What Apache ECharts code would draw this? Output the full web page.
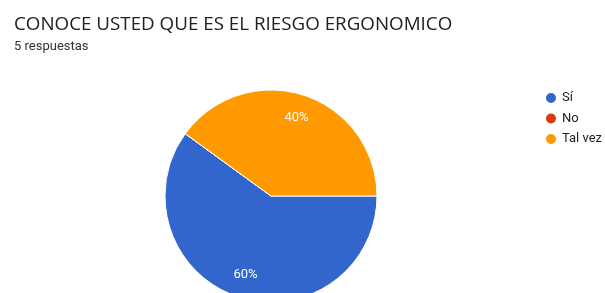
<!DOCTYPE html>
<html>
<head>
<meta charset="utf-8">
<script src="https://cdn.jsdelivr.net/npm/echarts@6/dist/echarts.min.js"></script>
<style>
  html, body { margin: 0; padding: 0; background: #fff; }
  #chart { width: 605px; height: 293px; }
</style>
</head>
<body>
<div id="chart"></div>
<script>
// datos de la encuesta
const categories = ['Sí', 'No', 'Tal vez']
const values = [3, 0, 2]
const colors = ['#3366cc', '#dc3912', '#ff9900']

const chart = echarts.init(document.getElementById('chart'))

const pieData = categories.map((name, i) => ({
  name,
  value: values[i],
  itemStyle: { color: colors[i] }
}))

const options = {
  animation: false,
  title: {
    text: 'CONOCE USTED QUE ES EL RIESGO ERGONOMICO',
    subtext: '5 respuestas',
    left: 9,
    top: 10,
    itemGap: 6,
    textStyle: {
      fontFamily: 'Open Sans',
      fontSize: 18.8,
      fontWeight: 'normal',
      color: '#202124'
    },
    subtextStyle: {
      fontFamily: 'Roboto',
      fontSize: 13,
      color: '#333'
    }
  },
  legend: {
    data: categories,
    orient: 'vertical',
    left: 539,
    top: 86,
    icon: 'circle',
    itemWidth: 12,
    itemHeight: 12,
    itemGap: 6.5,
    textStyle: { fontFamily: 'Roboto', fontSize: 13, color: '#222' }
  },
  series: [
    {
      // la torta
      type: 'pie',
      center: [271, 196],
      radius: 106,
      startAngle: 0,
      clockwise: true,
      legendHoverLink: false,
      itemStyle: { borderColor: '#fff', borderWidth: 1 },
      label: { show: false },
      labelLine: { show: false },
      data: pieData
    },
    {
      // etiquetas de porcentaje (anillo transparente)
      type: 'pie',
      center: [271, 196],
      radius: [53, 106],
      startAngle: 0,
      clockwise: true,
      silent: true,
      itemStyle: { color: 'transparent' },
      label: {
        show: true,
        position: 'inside',
        formatter: p => (p.value > 0 ? Math.round(p.percent) + '%' : ''),
        color: '#fff',
        fontFamily: 'Roboto',
        fontSize: 13
      },
      labelLine: { show: false },
      data: categories.map((name, i) => ({ name, value: values[i] }))
    }
  ]
}

chart.setOption(options)
</script>
</body>
</html>
